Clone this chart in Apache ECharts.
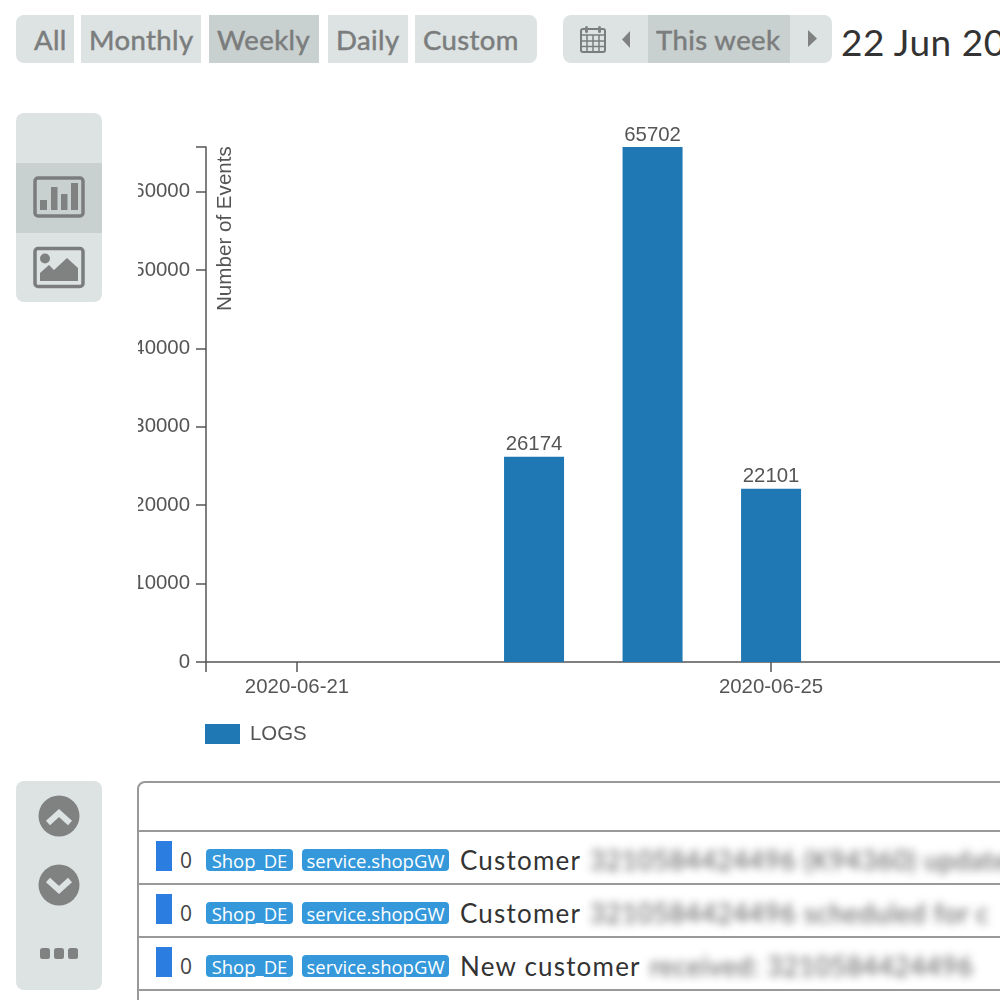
<!DOCTYPE html>
<html><head><meta charset="utf-8">
<script src="https://cdn.jsdelivr.net/npm/echarts@6/dist/echarts.min.js"></script>
<style>
html,body{margin:0;padding:0;background:#fff;overflow:hidden}
#page{position:relative;width:1000px;height:1000px;overflow:hidden;font-family:Lato,"Open Sans",sans-serif}
#chart{position:absolute;left:138px;top:100px;width:862px;height:670px}
.p{position:absolute;background:#dde3e3}
.a{background:#c9d0d0}
.t{position:absolute;white-space:nowrap}
.btn{color:#7b7d7d;font-size:27.500px;font-weight:400;-webkit-text-stroke:.5px #7b7d7d;letter-spacing:.4px;line-height:50px;box-sizing:border-box;white-space:nowrap}
.tag{position:absolute;height:22px;background:#3498db;border-radius:4px;color:#fff;font-size:18.5px;line-height:23px;text-align:center;font-family:"Open Sans",sans-serif}
.blur{position:absolute;white-space:nowrap;filter:blur(4px);color:#555;font-size:26px;letter-spacing:.8px}
svg{position:absolute}
</style></head><body><div id="page">
<div id="ui"></div>
<svg style="left:0;top:0" width="1000" height="1000" fill="#808282">
 <rect x="581" y="29" width="24" height="23" rx="2" fill="none" stroke="#7b7d7d" stroke-width="2"/>
 <path d="M581 35h24M581 41h24M581 46.500h24M587 35v17M593 35v17M599 35v17" stroke="#7b7d7d" stroke-width="1.500" fill="none"/>
 <rect x="585" y="26" width="3" height="7" rx="1.500"/><rect x="598" y="26" width="3" height="7" rx="1.500"/>
 <path d="M630 31v17l-8-8.500zM808 30v17l9-8.500z"/>
 <rect x="35" y="178" width="48" height="38" rx="3" fill="none" stroke="#7b7d7d" stroke-width="3.500"/>
 <rect x="40" y="200" width="7" height="10"/><rect x="51" y="187" width="6.500" height="23"/><rect x="61" y="194" width="6.500" height="16"/><rect x="71" y="183" width="7" height="27"/>
 <rect x="35" y="248.500" width="48" height="38" rx="3" fill="none" stroke="#7b7d7d" stroke-width="3.500"/>
 <circle cx="45" cy="258.500" r="5"/><path d="M40 281v-8l9-8 5 5 13-12 11 10v13z"/>
 <circle cx="59" cy="816" r="20.500"/><circle cx="59" cy="885" r="20.500"/>
 <path d="M48 823l11-10 11 10" fill="none" stroke="#dde3e3" stroke-width="6"/>
 <path d="M48 880l11 10 11-10" fill="none" stroke="#dde3e3" stroke-width="6"/>
 <rect x="40" y="948" width="10" height="11" rx="2.500"/><rect x="54" y="948" width="10" height="11" rx="2.500"/><rect x="68" y="948" width="10" height="11" rx="2.500"/>
</svg>
<div id="chart"></div>
</div>
<script>
// ---- chart data ----
const dates = ['2020-06-23', '2020-06-24', '2020-06-25'];
const logs = [26174, 65702, 22101];
const seriesName = 'LOGS';
const yTicks = [0, 10000, 20000, 30000, 40000, 50000, 60000];
const yAxisTop = 65702;
const xLabelDates = ['2020-06-21', '2020-06-25'];
const yTitle = 'Number of Events';
// ---- page chrome text ----
const rangeButtons = ['All', 'Monthly', 'Weekly', 'Daily', 'Custom'];
const rowMessages = ['Customer', 'Customer', 'New customer'];
const rowHidden = ['3210584424496 (K94360) update', '3210584424496 scheduled for c', 'received: 3210584424496'];

const ui = document.getElementById('ui');
function add(cls, css, text) {
  const d = document.createElement('div');
  d.className = cls; d.style.cssText = css;
  if (text !== undefined) d.textContent = text;
  ui.appendChild(d); return d;
}
const btnGeo = [[16,58,'8px 0 0 8px',18],[81,120,'0',8],[209,110,'0',8],[328,80,'0',8],[415,122,'0 8px 8px 0',8]];
rangeButtons.forEach((b,i)=>{
  const g = btnGeo[i];
  add('p btn'+(b==='Weekly'?' a':''), `left:${g[0]}px;top:15px;width:${g[1]}px;height:48px;border-radius:${g[2]};padding-left:${g[3]}px`, b);
});
add('p','left:563px;top:15px;width:269px;height:48px;border-radius:8px');
add('p a btn','left:648px;top:15px;width:142px;height:48px;padding-left:8px','This week');
add('t','left:841px;top:19px;font-size:37px;color:#333;letter-spacing:.5px;font-weight:400','22 Jun 2020');
add('p','left:16px;top:113px;width:86px;height:189px;border-radius:8px');
add('p a','left:16px;top:163px;width:86px;height:70px');
add('p','left:16px;top:781px;width:86px;height:209px;border-radius:8px');
add('t','left:137px;top:781px;width:900px;height:240px;border:2px solid #999;border-radius:8px;box-sizing:border-box');
rowMessages.forEach((m,i)=>{
  const y = 830 + i*53;
  add('t',`left:137px;top:${y}px;width:900px;height:2px;background:#999`);
  add('t',`left:156px;top:${y+11}px;width:16px;height:30px;background:#2b7de0`);
  add('t',`left:180px;top:${y+16}px;font-size:21px;color:#444;font-family:'Open Sans'`,'0');
  add('tag',`left:206px;top:${y+19}px;width:87px`,'Shop_DE');
  add('tag',`left:302px;top:${y+19}px;width:147px`,'service.shopGW');
  add('t',`left:460px;top:${y+14}px;font-size:26px;color:#333;letter-spacing:1.2px`,m);
  add('blur',`left:${i===2?650:590}px;top:${y+14}px`,rowHidden[i]);
});
add('t','left:137px;top:989px;width:900px;height:2px;background:#999');

// ---- chart ----
const DAY = 86400000;
const ORIGIN = Date.parse(xLabelDates[0] + 'T00:00:00Z');
const dayOf = s => (Date.parse(s + 'T00:00:00Z') - ORIGIN) / DAY;
const pad = n => String(n).padStart(2,'0');
const dateOf = v => { const d = new Date(ORIGIN + v * DAY); return d.getUTCFullYear()+'-'+pad(d.getUTCMonth()+1)+'-'+pad(d.getUTCDate()); };
const xMin = -0.768, xMax = 7.67;
const FONT = '"Liberation Sans", Arial, sans-serif';
const FS = 20.4;
const chart = echarts.init(document.getElementById('chart'), null, {renderer:'canvas'});
chart.setOption({
  animation: false,
  textStyle: {fontFamily: FONT},
  grid: {left: 68, top: 47, width: 1000, height: 515, outerBoundsMode: 'none', containLabel: false},
  legend: {left: 67, top: 624, itemWidth: 35, itemHeight: 20, icon: 'rect', padding: 0,
    textStyle: {fontSize: FS, color: '#555', fontFamily: FONT, padding: [0,0,0,5]},
    data: [seriesName]},
  xAxis: {
    type: 'value', min: xMin, max: xMax, splitLine: {show: false}, containShape: false,
    axisLine: {show: true, onZero: false, lineStyle: {color: '#555', width: 1.5}},
    axisTick: {show: true, length: 10, lineStyle: {color: '#555', width: 1.5}, customValues: [xMin].concat(xLabelDates.map(dayOf))},
    axisLabel: {margin: 15, fontSize: FS, color: '#555', fontFamily: FONT, customValues: xLabelDates.map(dayOf), formatter: v => dateOf(v)}
  },
  yAxis: {
    type: 'value', min: 0, max: yAxisTop,
    name: yTitle, nameLocation: 'end', nameRotate: 90, nameGap: -164,
    nameTextStyle: {fontSize: 20.6, color: '#555', fontFamily: FONT, verticalAlign: 'top', padding: [9,0,0,0]},
    axisLine: {show: true, onZero: false, lineStyle: {color: '#555', width: 1.5}},
    axisTick: {show: true, length: 10, lineStyle: {color: '#555', width: 1.5}, customValues: yTicks.concat([yAxisTop])},
    axisLabel: {margin: 16, fontSize: FS, color: '#555', fontFamily: FONT, customValues: yTicks, formatter: v => String(v), padding: [2,0,0,0]},
    splitLine: {show: false}
  },
  series: [{
    name: seriesName, type: 'bar', barWidth: 60,
    itemStyle: {color: '#1f77b4'},
    label: {show: true, position: 'top', distance: 2, fontSize: FS, color: '#555', fontFamily: FONT, formatter: p => String(p.value[1])},
    data: dates.map((d,i)=>[dayOf(d), logs[i]])
  }]
});
</script></body></html>
